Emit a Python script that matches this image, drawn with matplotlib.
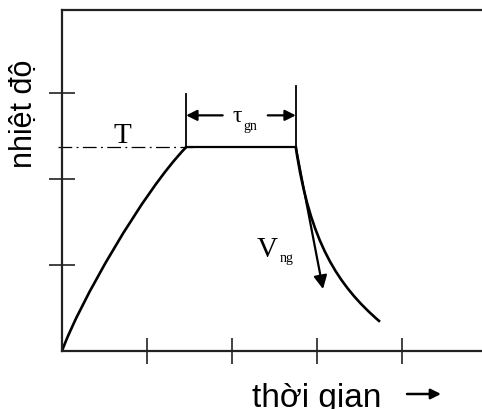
import matplotlib
matplotlib.use("Agg")
import matplotlib.pyplot as plt
from matplotlib.path import Path
from matplotlib.patches import PathPatch, FancyArrowPatch

# Heating stage as a cubic Bezier: start, two control points, end
# (axis units = tick spacing; x = time, y = temperature)
heat_t = [0.0, 0.20, 0.95, 1.46]
heat_T = [0.0, 0.55, 1.85, 2.37]

# Holding stage at temperature T
hold_t = [1.46, 2.75]
hold_T = [2.37, 2.37]

# Cooling stage as a cubic Bezier
cool_t = [2.75, 2.915, 3.24, 3.74]
cool_T = [2.37, 1.27, 0.765, 0.34]

# Cooling-rate arrow (start, tip)
rate_start = (2.75, 2.37)
rate_tip = (3.07, 0.72)

# Holding-time bracket
tau_left, tau_right = 1.46, 2.75
tau_left_top, tau_right_top = 2.99, 3.08
tau_y = 2.74

x_ticks = [1, 2, 3, 4]
y_ticks = [1, 2, 3]
x_max, y_max = 4.94, 3.965

serif = ["Liberation Serif", "DejaVu Serif"]
sans = ["Liberation Sans", "DejaVu Sans"]

fig = plt.figure(figsize=(4.82, 4.10), dpi=100)
ax = fig.add_axes([62 / 482, 58 / 410, (482 - 62) / 482, (352 - 11) / 410])
ax.set_xlim(0, x_max)
ax.set_ylim(0, y_max)

for side in ["left", "bottom", "top"]:
    ax.spines[side].set_linewidth(1.6)
    ax.spines[side].set_color("#222222")
ax.spines["right"].set_visible(False)

ax.set_xticks(x_ticks)
ax.set_yticks(y_ticks)
ax.set_xticklabels([])
ax.set_yticklabels([])
ax.tick_params(axis="both", direction="inout", length=19, width=1.2, color="#222222")

bezier_codes = [Path.MOVETO, Path.CURVE4, Path.CURVE4, Path.CURVE4]
for ts, Ts in [(heat_t, heat_T), (cool_t, cool_T)]:
    ax.add_patch(PathPatch(Path(list(zip(ts, Ts)), bezier_codes),
                           facecolor="none", edgecolor="black", lw=1.9))
ax.plot(hold_t, hold_T, color="black", lw=1.6)

# Dash-dot level line for T
ax.plot([-0.05, tau_left + 0.08], [2.37, 2.37], color="black", lw=0.9,
        dashes=(11, 3.5, 1.5, 3.5), clip_on=False)

# Vertical bracket lines
ax.plot([tau_left, tau_left], [2.37, tau_left_top], color="black", lw=1.3)
ax.plot([tau_right, tau_right], [2.37, tau_right_top], color="black", lw=1.3)

arrow_kw = dict(arrowstyle="-|>", mutation_scale=16, lw=1.6, color="black",
                shrinkA=0, shrinkB=0)
ax.annotate("", xy=(tau_left, tau_y), xytext=(1.89, tau_y), arrowprops=arrow_kw)
ax.annotate("", xy=(tau_right, tau_y), xytext=(2.42, tau_y), arrowprops=arrow_kw)
ax.text(2.06, 2.67, "τ", fontsize=17, family=serif, ha="center", va="baseline")
ax.text(2.22, 2.58, "gn", fontsize=10, family=serif, ha="center", va="baseline")

ax.annotate("", xy=rate_tip, xytext=rate_start,
            arrowprops=dict(arrowstyle="-|>", mutation_scale=20, lw=1.6,
                            color="black", shrinkA=0, shrinkB=0))

ax.text(0.71, 2.43, "T", fontsize=21, family=serif, ha="center", va="baseline")
ax.text(2.41, 1.10, "V", fontsize=21, family=serif, ha="center", va="baseline")
ax.text(2.64, 1.05, "ng", fontsize=10, family=serif, ha="center", va="baseline")

fig.text(24 / 482, 1 - 114 / 410, "nhiệt độ", rotation=90, fontsize=22,
         family=sans, ha="center", va="center")
fig.text(317 / 482, 1 - 407 / 410, "thời gian", fontsize=24, family=sans,
         ha="center", va="baseline")
fig.patches.append(FancyArrowPatch(
    (407 / 482, 1 - 395 / 410), (441 / 482, 1 - 395 / 410),
    transform=fig.transFigure, arrowstyle="-|>", mutation_scale=15,
    lw=1.8, color="black", shrinkA=0, shrinkB=0))

fig.savefig("out.png", dpi=100)
